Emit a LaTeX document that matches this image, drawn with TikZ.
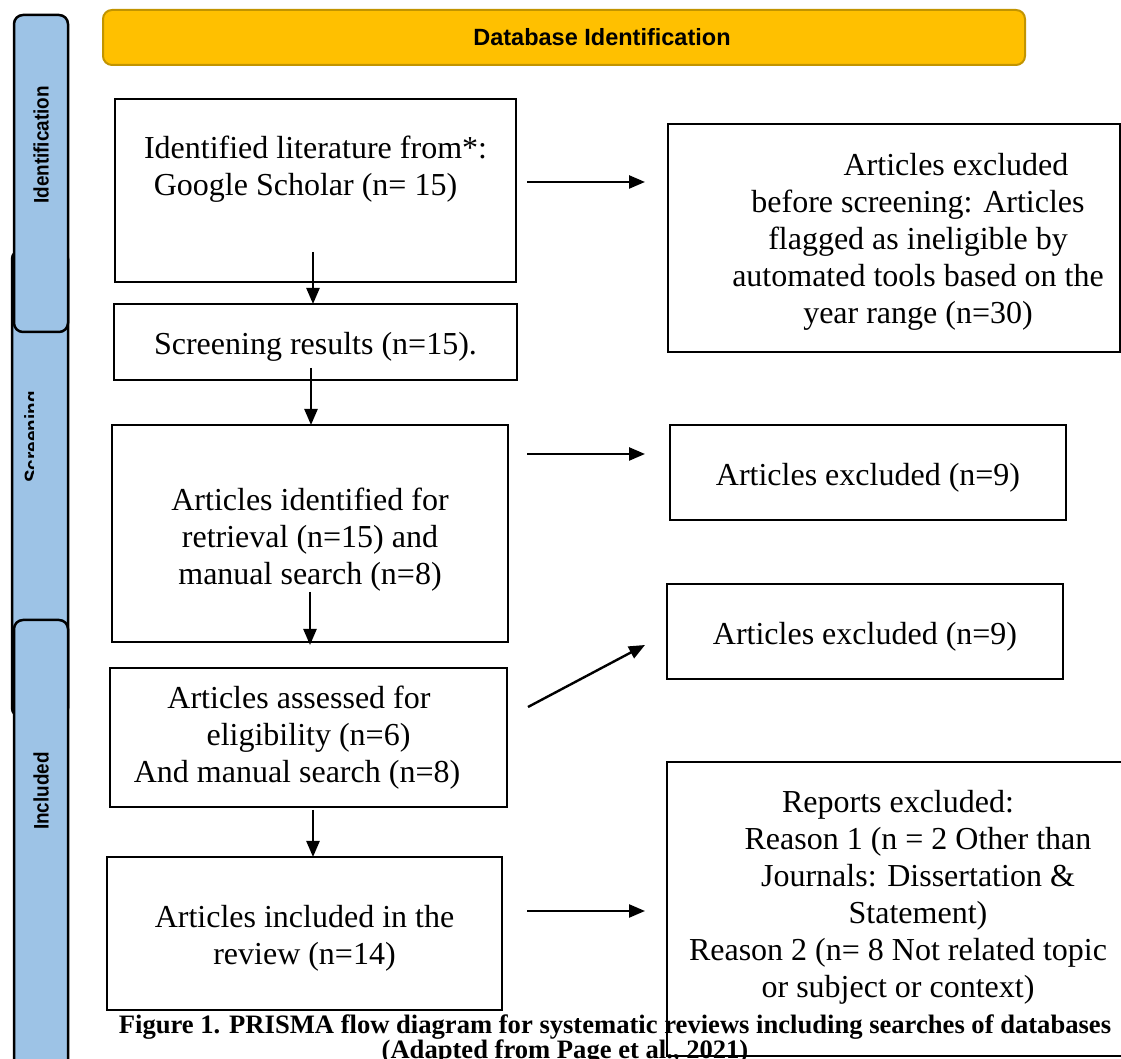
\documentclass[tikz,border=0pt]{standalone}
\usepackage{fontspec}
\setmainfont{Liberation Serif}
\setsansfont{Liberation Sans}
\usetikzlibrary{positioning,calc,arrows.meta}

\definecolor{bannerfill}{HTML}{FFC000}
\definecolor{bannerdraw}{HTML}{C29400}
\definecolor{phasefill}{HTML}{9DC3E6}
\newcommand{\topstrut}{\rule{0pt}{32pt}}

\begin{document}
\begin{tikzpicture}[x=1pt,y=1pt,>={Triangle[length=16pt,width=13pt]},box/.style={rectangle, draw=black, line width=2.2pt, outer sep=0pt, align=center, font=\fontsize{32}{37}\selectfont},txt/.style={align=center, inner sep=0pt, font=\fontsize{32}{37}\selectfont},phase/.style={draw=black, line width=2.5pt, fill=phasefill, rounded corners=9pt},phaselabel/.style={rotate=90, xscale=0.9, inner sep=0pt, font=\sffamily\bfseries\fontsize{21}{24}\selectfont},flow/.style={->, line width=2.4pt}]
                \fill[white] (0,0) rectangle (1121,1059);
                \useasboundingbox (0,0) rectangle (1121,1059);
                % phase bars on the left
                \draw[phase] (12,809) rectangle (68,342);
                \draw[phase] (14,1044) rectangle (68,727);
                \draw[phase] (14,439) rectangle (68,-30);
                \node[phaselabel] (identlbl) at (41,914) {Identification};
                \begin{scope}
                \clip (14,330) rectangle (33,720);
                \node[phaselabel] (screenlbl) at (34,622) {Screening};
                \end{scope}
                \node[phaselabel] (incllbl) at (41,268) {Included};
                % banner
                \node[draw=bannerdraw, fill=bannerfill, line width=2pt, rounded corners=9pt, minimum width=922pt, minimum height=55pt, font=\sffamily\bfseries\fontsize{23.5}{26}\selectfont] (banner) at (564,1021.5) {\hspace*{76pt}Database Identification};
                % left column
                \node[box, minimum width=401pt, minimum height=183pt] (ident) at (315.5,868.5) {};
                \node[txt] (identtxt) at ($(ident)+(0,21)$) {Identified literature from*:\\ Google Scholar (n= 15)\hspace*{20pt}};
                \node[box, below=22pt of ident, minimum width=403pt, minimum height=76pt] (screen) {\topstrut Screening results (n=15).};
                \node[box, below=45pt of screen, xshift=-5.5pt, minimum width=396pt, minimum height=217pt] (retr) {\rule{0pt}{34pt}Articles identified for\\ retrieval (n=15) and\\ manual search (n=8)};
                \node[box, below=26pt of retr, xshift=-1.5pt, minimum width=397pt, minimum height=139pt] (elig) {Articles assessed for\hspace*{19pt}\\ eligibility (n=6)\hspace*{6pt}\\ And manual search (n=8)\hspace*{23pt}};
                \node[box, below=50pt of elig, xshift=-4pt, minimum width=395pt, minimum height=153pt] (incl) {\topstrut Articles included in the\\ review (n=14)};
                % right column
                \node[box, right=152pt of ident, yshift=-47.5pt, minimum width=452pt, minimum height=228pt] (excl1) {};
                \node[txt] (excl1txt) at ($(excl1)+(24,-4)$) {\hspace*{76pt}Articles excluded\\ before screening: Articles\\ flagged as ineligible by\\ automated tools based on the\\ year range (n=30)};
                \node[box, right=162pt of retr, yshift=61pt, minimum width=396pt, minimum height=95pt] (excl2) {\topstrut Articles excluded (n=9)};
                \node[box, right=160pt of elig, yshift=106pt, minimum width=396pt, minimum height=95pt] (excl3) {\topstrut Articles excluded (n=9)};
                \node[box, right=165pt of incl, yshift=24.5pt, minimum width=468pt, minimum height=294pt] (excl4) {};
                \node[txt] (excl4txt) at ($(excl4)+(-3,11.5)$) {Reports excluded:\\ \hspace*{40pt}Reason 1 (n = 2 Other than\\ \hspace*{40pt}Journals: Dissertation \&\\ \hspace*{40pt}Statement)\\ Reason 2 (n= 8 Not related topic\\ or subject or context)};
                % caption
                \node[align=center, inner sep=0pt, font=\bfseries\fontsize{26.6}{25}\selectfont] (caption) at (615,19.5) {Figure 1. PRISMA flow diagram for systematic reviews including searches of databases\\ (Adapted from Page et al., 2021)\hspace*{100pt}};
                % connectors
                \draw[flow] ($(ident.east)+(11,8.5)$) -- ($(ident.east -| excl1.west)+(-23,8.5)$);
                \draw[flow] ($(ident.south)+(-2.5,30)$) -- ($(screen.north)+(-2.5,0)$);
                \draw[flow] ($(screen.south)+(-4.5,12)$) -- ($(retr.north)+(1,0)$);
                \draw[flow] ($(retr.east)+(19,79.5)$) -- ($(retr.east -| excl2.west)+(-25,79.5)$);
                \draw[flow] ($(retr.south)+(0,50)$) -- ($(elig.north)+(1.5,23)$);
                \draw[flow] ($(elig.east)+(21,30.5)$) -- ($(excl3.west)+(-22,-13.5)$);
                \draw[flow] ($(elig.south)+(4.5,-3)$) -- ($(incl.north)+(8.5,0)$);
                \draw[flow] ($(incl.east)+(25,22.5)$) -- ($(incl.east -| excl4.west)+(-22,22.5)$);
            \end{tikzpicture}
\end{document}
